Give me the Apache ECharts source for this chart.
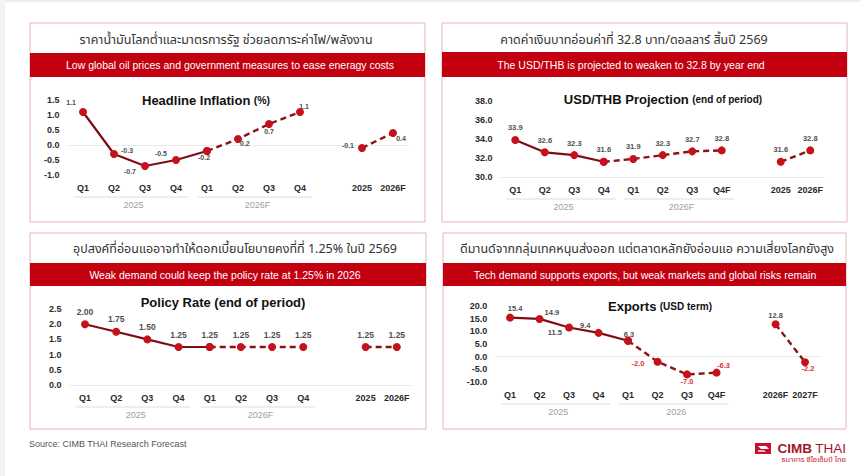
<!DOCTYPE html>
<html><head><meta charset="utf-8">
<script src="https://cdn.jsdelivr.net/npm/echarts@6/dist/echarts.min.js"></script>
<style>html,body{margin:0;padding:0;background:#fff;}#c{width:860px;height:476px;}</style>
</head><body><div id="c"></div>
<script>
// ---------- DATA ----------
const inflQuarterCats = ['Q1','Q2','Q3','Q4','Q1','Q2','Q3','Q4'];
const inflQuarterly   = [1.1,-0.3,-0.7,-0.5,-0.2,0.2,0.7,1.1];
const inflAnnualCats  = ['2025','2026F'];
const inflAnnual      = [-0.1,0.4];
const inflYTicks      = [-1.0,-0.5,0.0,0.5,1.0,1.5];
const inflGroups      = ['2025','2026F'];

const fxQuarterCats = ['Q1','Q2','Q3','Q4','Q1','Q2','Q3','Q4F'];
const fxQuarterly   = [33.9,32.6,32.3,31.6,31.9,32.3,32.7,32.8];
const fxAnnualCats  = ['2025','2026F'];
const fxAnnual      = [31.6,32.8];
const fxYTicks      = [30.0,32.0,34.0,36.0,38.0];
const fxGroups      = ['2025','2026F'];

const rateQuarterCats = ['Q1','Q2','Q3','Q4','Q1','Q2','Q3','Q4'];
const rateQuarterly   = [2.00,1.75,1.50,1.25,1.25,1.25,1.25,1.25];
const rateAnnualCats  = ['2025','2026F'];
const rateAnnual      = [1.25,1.25];
const rateYTicks      = [0.0,0.5,1.0,1.5,2.0,2.5];
const rateGroups      = ['2025','2026F'];

const expQuarterCats = ['Q1','Q2','Q3','Q4','Q1','Q2','Q3','Q4F'];
const expQuarterly   = [15.4,14.9,11.5,9.4,6.3,-2.0,-7.0,-6.3];
const expAnnualCats  = ['2026F','2027F'];
const expAnnual      = [12.8,-2.2];
const expYTicks      = [-10.0,-5.0,0.0,5.0,10.0,15.0,20.0];
const expGroups      = ['2025','2026'];

// ---------- BUILD ----------
const FONT = '"Liberation Sans", Arial, "Noto Sans", sans-serif';
const LINE_DARK = '#7d0e16';
const DOT = '#c4111b';

const panels = [];
function addPanel(cfg){
  const i = panels.length;
  const cats = cfg.quarterCats.concat([''], cfg.annualCats);
  const n = cats.length;
  const ymin = cfg.ticks[0], ymax = cfg.ticks[cfg.ticks.length-1];
  const interval = cfg.ticks[1]-cfg.ticks[0];
  const mkItem = (v, k, hide) => {
    const lp = cfg.labelPos ? cfg.labelPos[k] : ['top',[0,0]];
    return {value: v, label: {show: !hide, position: lp[0], offset: lp[1],
      color: (cfg.negColor && v < 0) ? cfg.negColor : '#505050',
      formatter: () => v.toFixed(cfg.decimals)}};
  };
  const solid = [], dashed = [], annual = [];
  for (let k=0;k<n;k++){ solid.push(null); dashed.push(null); annual.push(null); }
  cfg.quarterly.forEach((v,k)=>{
    if (k<=cfg.solidEnd) solid[k] = mkItem(v,k,false);
    if (k>=cfg.solidEnd) dashed[k] = mkItem(v,k,k===cfg.solidEnd);
  });
  cfg.annual.forEach((v,k)=>{
    const idx = cfg.quarterCats.length+1+k;
    annual[idx] = mkItem(v, cfg.quarterCats.length+k, false);
  });
  const lbl = {fontFamily: FONT, fontSize: cfg.labelSize, fontWeight:'bold', distance: 4};
  const common = {type:'line', xAxisIndex:i, yAxisIndex:i, symbol:'circle', symbolSize:8,
    itemStyle:{color:DOT}, label:Object.assign({show:true}, lbl), animation:false, connectNulls:false, z:3};
  const series = [
    Object.assign({}, common, {data: solid, lineStyle:{color:LINE_DARK, width:2.2},
      markLine:{silent:true, symbol:['none','none'], label:{show:false}, animation:false,
        lineStyle:{color:'#e9e9e9', type:'solid', width:1.2}, data:[{yAxis: cfg.base}], z:1}}),
    Object.assign({}, common, {data: dashed, lineStyle:{color:'#8a1219', width:2.4, type:[6,4]}}),
    Object.assign({}, common, {data: annual, lineStyle:{color:'#8a1219', width:2.4, type:[6,4]}}),
    {type:'custom', xAxisIndex:i, yAxisIndex:i, silent:true, animation:false, clip:false, z:1,
      data: cfg.groups.map((g,k)=>[k*4, k*4+3]),
      encode:{x:[0,1]},
      renderItem:(params, api)=>{
        const g = cfg.groups[params.dataIndex];
        const a = api.coord([api.value(0), ymin]);
        const b = api.coord([api.value(1), ymin]);
        return {type:'group', children:[
          {type:'line', shape:{x1:a[0]-9, y1:a[1]+22, x2:b[0]+12, y2:b[1]+22},
            style:{stroke:'#e8e8e8', lineWidth:1.5}},
          {type:'text', x:(a[0]+b[0])/2+4, y:a[1]+30,
            style:{text:g, fill:'#a0a0a0', fontSize:9, fontFamily:FONT, align:'center', verticalAlign:'middle'}}
        ]};
      }}
  ];
  panels.push({
    grid:{left:cfg.grid[0], top:cfg.grid[1], width:cfg.grid[2], height:cfg.grid[3], containLabel:false},
    xAxis:{type:'category', gridIndex:i, data:cats, boundaryGap:true,
      axisLine:{show:false}, axisTick:{show:false}, splitLine:{show:false},
      axisLabel:{interval:0, margin:8, color:'#2b2b2b', fontWeight:'bold', fontSize:9, fontFamily:FONT}},
    yAxis:{type:'value', gridIndex:i, min:ymin, max:ymax, interval:interval,
      axisLine:{show:false}, axisTick:{show:false}, splitLine:{show:false},
      axisLabel:{margin:8, color:'#2b2b2b', fontWeight:'bold', fontSize:9, fontFamily:FONT,
        formatter:(v)=>v.toFixed(1)}},
    series
  });
}

addPanel({quarterCats:inflQuarterCats, quarterly:inflQuarterly, annualCats:inflAnnualCats, annual:inflAnnual,
  ticks:inflYTicks, groups:inflGroups, solidEnd:4, base:0, decimals:1, labelSize:7,
  grid:[67.5,100,341,75],
  labelPos:[['top',[-12,2]],['right',[-1,-4]],['left',[-1,5]],['left',[-1,-7]],['bottom',[-3,-5]],
            ['right',[-6,4]],['bottom',[0,-4]],['top',[4,6]],['left',[0,-3]],['bottom',[8,-6]]]});
addPanel({quarterCats:fxQuarterCats, quarterly:fxQuarterly, annualCats:fxAnnualCats, annual:fxAnnual,
  ticks:fxYTicks, groups:fxGroups, solidEnd:3, base:30, decimals:1, labelSize:7.5,
  grid:[500.5,101,324.5,76]});
addPanel({quarterCats:rateQuarterCats, quarterly:rateQuarterly, annualCats:rateAnnualCats, annual:rateAnnual,
  ticks:rateYTicks, groups:rateGroups, solidEnd:4, base:0, decimals:2, labelSize:8.5,
  grid:[69.4,309,343,76]});
addPanel({quarterCats:expQuarterCats, quarterly:expQuarterly, annualCats:expAnnualCats, annual:expAnnual,
  ticks:expYTicks, groups:expGroups, solidEnd:4, base:0, decimals:1, labelSize:7.5, negColor:'#e0303a',
  grid:[495.3,306,324.5,76],
  labelPos:[['top',[5,3]],['right',[-3,-6]],['left',[1,5]],['left',[0,-7]],['top',[1,6]],
            ['left',[-5,2]],['bottom',[0,-5]],['top',[7,5]],['top',[0,3]],['bottom',[3,-6]]]});

// ---------- DECORATION ----------
const THAI = '"Noto Sans Thai", "Noto Sans", "DejaVu Sans", "Liberation Sans", sans-serif';
const deco = [];
function frame(x,y,w,h,thai,thaiY,eng,bY,bH,engX,thaiX,title,titleX,titleY){
  deco.push({type:'rect', shape:{x:x,y:y,width:w,height:h}, style:{fill:'#fff', stroke:'#e7b3b3', lineWidth:1}, z:-10});
  deco.push({type:'rect', shape:{x:x,y:bY,width:w,height:bH}, style:{fill:'#c3000f'}, z:-9});
  deco.push({type:'text', x:thaiX, y:thaiY, style:{text:thai, fill:'#333', fontSize:12.5, fontFamily:THAI, align:'center', verticalAlign:'middle'}});
  deco.push({type:'text', x:engX, y:bY+bH/2, style:{text:eng, fill:'#fff', fontSize:10.5, fontFamily:FONT, align:'center', verticalAlign:'middle'}});
  deco.push({type:'text', x:titleX, y:titleY, style:{text:title[0], rich:title[1], fill:'#111', fontFamily:FONT, align:'center', verticalAlign:'middle'}});
}
frame(30,23,395,199,'ราคาน้ำมันโลกต่ำและมาตรการรัฐ ช่วยลดภาระค่าไฟ/พลังงาน',40,
  'Low global oil prices and government measures to ease eneragy costs',53,24,230,226,
  ['{a|Headline Inflation} {b|(%)}',{a:{fontSize:13,fontWeight:'bold',fontFamily:FONT,fill:'#111'},b:{fontSize:10.5,fontWeight:'bold',fontFamily:FONT,fill:'#111'}}],206,100);
frame(442,23,405,199,'คาดค่าเงินบาทอ่อนค่าที่ 32.8 บาท/ดอลลาร์ สิ้นปี 2569',40,
  'The USD/THB is projected to weaken to 32.8 by year end',52,25,631,634,
  ['{a|USD/THB Projection} {b|(end of period)}',{a:{fontSize:13,fontWeight:'bold',fontFamily:FONT,fill:'#111'},b:{fontSize:10,fontWeight:'bold',fontFamily:FONT,fill:'#111'}}],663,99);
frame(30,233,396,196,'อุปสงค์ที่อ่อนแออาจทำให้ดอกเบี้ยนโยบายคงที่ที่ 1.25% ในปี 2569',249,
  'Weak demand could keep the policy rate at 1.25% in 2026',263,23,225,235,
  ['{a|Policy Rate (end of period)}',{a:{fontSize:13,fontWeight:'bold',fontFamily:FONT,fill:'#111'}}],223,302);
frame(443,233,403,196,'ดีมานด์จากกลุ่มเทคหนุนส่งออก แต่ตลาดหลักยังอ่อนแอ ความเสี่ยงโลกยังสูง',249,
  'Tech demand supports exports, but weak markets and global risks remain',263,23,645,647,
  ['{a|Exports} {b|(USD term)}',{a:{fontSize:13,fontWeight:'bold',fontFamily:FONT,fill:'#111'},b:{fontSize:10,fontWeight:'bold',fontFamily:FONT,fill:'#111'}}],660,306);

// page edge tint
deco.push({type:'rect', shape:{x:0,y:0,width:860,height:2}, style:{fill:'#ededed'}, z:-20});
deco.push({type:'rect', shape:{x:0,y:0,width:5,height:476}, style:{fill:'#f3f3f3'}, z:-20});
// source
deco.push({type:'text', x:29, y:444, style:{text:'Source: CIMB THAI Research Forecast', fill:'#555', fontSize:9, fontFamily:FONT, align:'left', verticalAlign:'middle'}});
// logo
deco.push({type:'rect', shape:{x:755,y:443,width:16,height:11}, style:{fill:'#c8102e'}});
deco.push({type:'polygon', shape:{points:[[758,446],[766,446],[769,449],[761,449]]}, style:{fill:'#fff'}});
deco.push({type:'polygon', shape:{points:[[758,450],[764,450],[766,452],[758,452]]}, style:{fill:'#f3b0b8'}});
deco.push({type:'text', x:846, y:448, style:{text:'{a|CIMB} {b|THAI}', rich:{a:{fontSize:13.5,fontWeight:'bold',fill:'#a3162a',fontFamily:FONT},b:{fontSize:13.5,fill:'#a3162a',fontFamily:FONT}}, align:'right', verticalAlign:'middle'}});
deco.push({type:'text', x:846, y:459.5, style:{text:'ธนาคาร ซีไอเอ็มบี ไทย', fill:'#c8102e', fontSize:7.5, fontFamily:THAI, align:'right', verticalAlign:'middle'}});

const chart = echarts.init(document.getElementById('c'), null, {renderer:'svg', width:860, height:476});
chart.setOption({
  backgroundColor:'#fff',
  animation:false,
  textStyle:{fontFamily:FONT},
  grid: panels.map(p=>p.grid),
  xAxis: panels.map(p=>p.xAxis),
  yAxis: panels.map(p=>p.yAxis),
  series: panels.flatMap(p=>p.series),
  graphic: deco
});
</script></body></html>
